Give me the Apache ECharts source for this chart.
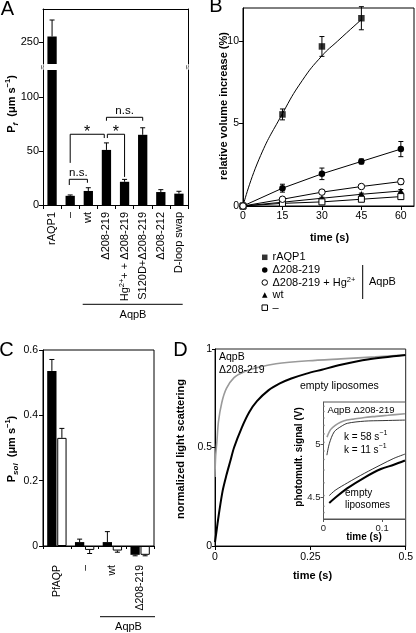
<!DOCTYPE html>
<html><head><meta charset="utf-8">
<script src="https://cdn.jsdelivr.net/npm/echarts@6/dist/echarts.min.js"></script>
<style>html,body{margin:0;padding:0;background:#fff}#c{width:416px;height:633px}</style>
</head><body><div id="c"></div>
<script>
const FONT = '"Liberation Sans", Arial, Helvetica, sans-serif';

// ---------- Panel A ----------
const aCategories = ['rAQP1', '–', 'wt', 'Δ208-219', 'Hg2+ + Δ208-219', 'S120D+Δ208-219', 'Δ208-212', 'D-loop swap'];
const aValues = [255, 8.5, 13, 51, 21.5, 65, 12, 10.5];
const aErrors = [15, 0.8, 3, 6.5, 2.2, 6.5, 2.2, 2.2];
const aUpperTicks = [250];
const aLowerTicks = [0, 50, 100];
// brackets: [fromCat, toCat, bracketValue, leftLegEnd, rightLegEnd]
const aBrackets = [[1, 3, 65.5, 39, 62], [3, 4, 65.5, 62, 26], [3, 5, 81.2, 78, 78], [1, 2, 23.8, 18.5, 20.6]];
const aBracketLabels = ['*', '*', 'n.s.', 'n.s.'];
const aBracketNudge = [[0, -0.12], [0.05, 0], [0, 0], [-0.05, -0.05]];

// ---------- Panel B ----------
const bTimes = [0, 15, 30, 45, 60];
const bRAQP1 = [0, 5.55, 9.67, 11.38];
const bRAQP1Err = [0, 0.33, 0.6, 0.7];
const bRAQP1FitT = [0, 6, 15, 22.5, 30, 36, 45];
const bRAQP1FitV = [0, 2.8, 5.6, 7.6, 9.1, 10, 11.3];
const bD208 = [0, 1.08, 1.95, 2.7, 3.45];
const bD208Err = [0, 0.24, 0.35, 0.15, 0.46];
const bD208Hg = [0, 0.41, 0.84, 1.18, 1.48];
const bD208HgErr = [0, 0.08, 0.1, 0.1, 0.18];
const bWt = [0, 0.23, 0.47, 0.71, 0.91];
const bWtErr = [0, 0.05, 0.06, 0.07, 0.09];
const bEmpty = [0, 0.16, 0.25, 0.41, 0.57];
const bEmptyErr = [0, 0.04, 0.05, 0.06, 0.07];
const bXTicks = [0, 15, 30, 45, 60];
const bYTicks = [0, 5, 10];
const bLegendNames = ['rAQP1', 'Δ208-219', 'Δ208-219 + Hg2+', 'wt', '–'];

// ---------- Panel C ----------
const cCategories = ['PfAQP', '–', 'wt', 'Δ208-219'];
const cFilled = [0.536, 0.012, 0.012, -0.027];
const cFilledErr = [0.035, 0.009, 0.032, 0.003];
const cOpen = [0.331, -0.012, -0.014, -0.027];
const cOpenErr = [0.029, 0.011, 0.005, 0.003];
const cYTicks = [0, 0.2, 0.4, 0.6];

// ---------- Panel D ----------
const dEmptyT = [0, 0.005, 0.01, 0.02, 0.03, 0.04, 0.05, 0.07, 0.09, 0.11, 0.14, 0.17, 0.2, 0.24, 0.28, 0.33, 0.4, 0.5];
const dEmptyV = [0.02, 0.09, 0.16, 0.28, 0.36, 0.43, 0.5, 0.6, 0.68, 0.735, 0.79, 0.825, 0.85, 0.875, 0.895, 0.92, 0.947, 0.97];
const dAqpBT = [0, 0.0015, 0.005, 0.009, 0.018, 0.03, 0.05, 0.077, 0.12, 0.16, 0.245, 0.33, 0.42, 0.5];
const dAqpBV = [0.35, 0.45, 0.53, 0.63, 0.73, 0.80, 0.855, 0.885, 0.91, 0.925, 0.94, 0.95, 0.96, 0.97];
const dXTicks = [0, 0.25, 0.5];
const dYTicks = [0, 0.5, 1];
// inset
const iDotsT = [0.001, 0.001, 0.001, 0.001, 0.001, 0.001, 0.001, 0.001, 0.001, 0.001, 0.001, 0.001, 0.001];
const iDotsV = [5.36, 5.31, 5.25, 5.18, 5.1, 5.02, 4.94, 4.86, 4.76, 4.64, 4.52, 4.42, 4.36];
const iAqpBT = [0.006, 0.012, 0.02, 0.029, 0.04, 0.052, 0.07, 0.09, 0.11, 0.139];
const iAqpBV = [5.07, 5.14, 5.18, 5.21, 5.23, 5.24, 5.255, 5.265, 5.275, 5.29];
const iAqpBFitT = [0.0058, 0.01, 0.0183, 0.03, 0.041, 0.07, 0.1, 0.139];
const iAqpBFitV = [4.9, 5.01, 5.12, 5.17, 5.2, 5.22, 5.225, 5.23];
const iEmptyT = [0.0098, 0.02, 0.041, 0.07, 0.098, 0.12, 0.139];
const iEmptyV = [4.45, 4.5, 4.59, 4.69, 4.77, 4.81, 4.85];
const iEmptyFitT = [0.0098, 0.02, 0.041, 0.07, 0.098, 0.12, 0.139];
const iEmptyFitV = [4.52, 4.57, 4.64, 4.73, 4.81, 4.87, 4.91];
const iXTicks = [0, 0.1];
const iYTicks = [4.5, 5];

// ---------- helpers ----------
const BLK = '#000';
const pairs = (xs, ys) => ys.map((y, i) => [xs[i], y]);

function errOneSided(off) {
  return function (params, api) {
    const i = api.value(0), v = api.value(1), e = api.value(2);
    const dir = v < 0 ? -1 : 1;
    const a = api.coord([i, v]), b = api.coord([i, v + dir * e]);
    const x = a[0] + off, cap = 2.5;
    return {type: 'group', children: [
      {type: 'line', shape: {x1: x, y1: a[1], x2: x, y2: b[1]}, style: {stroke: BLK, lineWidth: 1}},
      {type: 'line', shape: {x1: x - cap, y1: b[1], x2: x + cap, y2: b[1]}, style: {stroke: BLK, lineWidth: 1}}
    ]};
  };
}
function errBoth(params, api) {
  const t = api.value(0), v = api.value(1), e = api.value(2);
  const hi = api.coord([t, v + e]), lo = api.coord([t, v - e]);
  const cap = 2.5, s = {stroke: BLK, lineWidth: 1};
  return {type: 'group', children: [
    {type: 'line', shape: {x1: hi[0], y1: hi[1], x2: lo[0], y2: lo[1]}, style: s},
    {type: 'line', shape: {x1: hi[0] - cap, y1: hi[1], x2: hi[0] + cap, y2: hi[1]}, style: s},
    {type: 'line', shape: {x1: lo[0] - cap, y1: lo[1], x2: lo[0] + cap, y2: lo[1]}, style: s}
  ]};
}
function bracketRender(params, api) {
  const k = params.dataIndex;
  const band = api.size([1, 0])[0];
  const n = aBracketNudge[k];
  const c1 = api.coord([api.value(0), api.value(2)]);
  const c2 = api.coord([api.value(1), api.value(2)]);
  const x1 = c1[0] + n[0] * band, x2 = c2[0] + n[1] * band, yT = c1[1];
  const yL = api.coord([api.value(0), api.value(3)])[1];
  const yR = api.coord([api.value(0), api.value(4)])[1];
  const lab = aBracketLabels[k];
  const star = lab === '*';
  return {type: 'group', children: [
    {type: 'polyline', shape: {points: [[x1, yL], [x1, yT], [x2, yT], [x2, yR]]}, style: {stroke: BLK, lineWidth: 1, fill: null}},
    {type: 'text', style: {x: (x1 + x2) / 2, y: yT + (star ? 6.8 : -0.5), text: lab, fill: BLK,
      fontFamily: FONT, fontSize: star ? 16 : 11.5, align: 'center', verticalAlign: 'bottom',
      textAlign: 'center', textVerticalAlign: 'bottom'}}
  ]};
}

function txt(x, y, text, style, rotation) {
  const st = Object.assign({text: text, fill: BLK, fontFamily: FONT, fontSize: 11,
    align: 'left', verticalAlign: 'middle', textAlign: 'left', textVerticalAlign: 'middle'}, style || {});
  if (st.align) st.textAlign = st.align;
  if (st.verticalAlign) st.textVerticalAlign = st.verticalAlign;
  return {type: 'text', x: x, y: y, rotation: rotation || 0, z: 100, style: st};
}
function hline(x1, x2, y, color) {
  return {type: 'line', z: 100, shape: {x1: x1, y1: y, x2: x2, y2: y}, style: {stroke: color || BLK, lineWidth: 1}};
}
function vline(x, y1, y2) {
  return {type: 'line', z: 100, shape: {x1: x, y1: y1, x2: x, y2: y2}, style: {stroke: BLK, lineWidth: 1}};
}
const nameRich = {
  b: {fontFamily: FONT, fontSize: 11, fontWeight: 'bold', lineHeight: 16, verticalAlign: 'middle', fill: BLK, color: BLK},
  sub: {fontFamily: FONT, fontSize: 8, fontWeight: 'bold', fontStyle: 'italic', lineHeight: 8, verticalAlign: 'bottom', fill: BLK, color: BLK},
  sup: {fontFamily: FONT, fontSize: 7.5, fontWeight: 'bold', lineHeight: 8, verticalAlign: 'top', fill: BLK, color: BLK},
  n: {fontFamily: FONT, fontSize: 10, lineHeight: 14, verticalAlign: 'middle', fill: BLK, color: BLK},
  ns: {fontFamily: FONT, fontSize: 7, lineHeight: 7, verticalAlign: 'top', fill: BLK, color: BLK}
};

const axisLineBlk = {show: true, onZero: false, lineStyle: {color: BLK, width: 1}};
const tickOut = (vals, len) => ({show: true, inside: false, length: len || 4, lineStyle: {color: BLK}, customValues: vals});
const lab = (vals, size, margin) => ({show: true, color: BLK, fontFamily: FONT, fontSize: size, margin: margin || 4, customValues: vals});
const noSplit = {show: false};

const aUpperMin = 230, aUpperMax = 280, aLowerMax = 125;

const option = {
  animation: false,
  backgroundColor: '#fff',
  textStyle: {fontFamily: FONT},
  grid: [
    {left: 43, top: 9, width: 145, height: 55},               // A upper
    {left: 43, top: 70, width: 145, height: 135},             // A lower
    {left: 243, top: 8, width: 171, height: 198, show: true, borderColor: BLK, borderWidth: 1},   // B
    {left: 43, top: 350, width: 111, height: 196, show: true, borderColor: BLK, borderWidth: 1},  // C
    {left: 215, top: 349, width: 198, height: 197, show: true, borderColor: '#222', borderWidth: 1}, // D
    {left: 323.5, top: 402, width: 82, height: 117, show: true, borderColor: '#555', borderWidth: 1, backgroundColor: '#fff'} // inset
  ],
  xAxis: [
    {type: 'category', gridIndex: 0, position: 'top', data: aCategories, axisLine: axisLineBlk, axisTick: {show: false}, axisLabel: {show: false}},
    {type: 'category', gridIndex: 1, position: 'bottom', data: aCategories, axisLine: axisLineBlk,
      axisTick: {show: true, length: 4, lineStyle: {color: BLK}, interval: 0},
      axisLabel: {show: true, interval: 0, rotate: 90, margin: 7, color: BLK, fontFamily: FONT, fontSize: 11,
        formatter: v => v.indexOf('Hg') === 0 ? '{t|Hg}{s|2+}{t|' + v.slice(3) + '}' : v,
        rich: {t: {fontFamily: FONT, fontSize: 11, color: BLK, lineHeight: 14, verticalAlign: 'middle'},
               s: {fontFamily: FONT, fontSize: 7.5, color: BLK, lineHeight: 7.5, verticalAlign: 'top'}}}},
    {type: 'value', gridIndex: 2, min: 0, max: 65, axisLine: axisLineBlk, axisTick: tickOut(bXTicks, 4), axisLabel: lab(bXTicks, 10.5, 5), splitLine: noSplit},
    {type: 'category', gridIndex: 3, data: cCategories, axisLine: axisLineBlk,
      axisTick: {show: true, length: 3, lineStyle: {color: BLK}, interval: 0},
      axisLabel: {show: true, interval: 0, rotate: 90, margin: 19, color: BLK, fontFamily: FONT, fontSize: 10.5}},
    {type: 'value', gridIndex: 4, min: 0, max: 0.5, axisLine: axisLineBlk, axisTick: tickOut(dXTicks, 4), axisLabel: lab(dXTicks, 10.5, 6), splitLine: noSplit},
    {type: 'value', gridIndex: 5, min: 0, max: 0.14, axisLine: {show: true, onZero: false, lineStyle: {color: '#555'}},
      axisTick: {show: true, length: 3, lineStyle: {color: '#555'}, customValues: iXTicks},
      axisLabel: {show: true, color: '#222', fontFamily: FONT, fontSize: 9.5, margin: 4, customValues: iXTicks}, splitLine: noSplit}
  ],
  yAxis: [
    {type: 'value', gridIndex: 0, min: aUpperMin, max: aUpperMax, position: 'left', axisLine: axisLineBlk, axisTick: tickOut(aUpperTicks), axisLabel: lab(aUpperTicks, 11), splitLine: noSplit},
    {type: 'value', gridIndex: 0, min: aUpperMin, max: aUpperMax, position: 'right', axisLine: axisLineBlk, axisTick: {show: false}, axisLabel: {show: false}, splitLine: noSplit},
    {type: 'value', gridIndex: 1, min: 0, max: aLowerMax, position: 'left', axisLine: axisLineBlk, axisTick: tickOut(aLowerTicks), axisLabel: lab(aLowerTicks, 11), splitLine: noSplit},
    {type: 'value', gridIndex: 1, min: 0, max: aLowerMax, position: 'right', axisLine: axisLineBlk, axisTick: {show: false}, axisLabel: {show: false}, splitLine: noSplit},
    {type: 'value', gridIndex: 2, min: 0, max: 12, axisLine: axisLineBlk, axisTick: tickOut(bYTicks), axisLabel: lab(bYTicks, 10.5), splitLine: noSplit},
    {type: 'value', gridIndex: 3, min: 0, max: 0.6, axisLine: axisLineBlk, axisTick: tickOut(cYTicks), axisLabel: lab(cYTicks, 10.5, 5), splitLine: noSplit},
    {type: 'value', gridIndex: 4, min: 0, max: 1, axisLine: axisLineBlk, axisTick: tickOut(dYTicks, 3), axisLabel: lab(dYTicks, 10.5, 3), splitLine: noSplit},
    {type: 'value', gridIndex: 5, min: 4.3, max: 5.4, axisLine: {show: true, onZero: false, lineStyle: {color: '#555'}},
      axisTick: {show: true, length: 3, lineStyle: {color: '#555'}, customValues: iYTicks},
      axisLabel: {show: true, color: '#222', fontFamily: FONT, fontSize: 9.5, margin: 3, customValues: iYTicks}, splitLine: noSplit}
  ],
  legend: {
    orient: 'vertical', left: 261.5, top: 251, padding: 0, itemWidth: 5.5, itemHeight: 5.5, itemGap: 0,
    selectedMode: false,
    textStyle: {fontFamily: FONT, fontSize: 11, color: BLK, lineHeight: 12.6,
      rich: {t: {fontFamily: FONT, fontSize: 11, color: BLK, lineHeight: 12.6, verticalAlign: 'middle'},
             s: {fontFamily: FONT, fontSize: 7.5, color: BLK, lineHeight: 7.5, verticalAlign: 'top'}}},
    formatter: n => n === bLegendNames[2] ? '{t|Δ208-219 + Hg}{s|2+}' : n,
    data: [
      {name: bLegendNames[0], icon: 'rect', itemStyle: {color: BLK}},
      {name: bLegendNames[1], icon: 'circle', itemStyle: {color: BLK}},
      {name: bLegendNames[2], icon: 'circle', itemStyle: {color: '#fff', borderColor: BLK, borderWidth: 1}},
      {name: bLegendNames[3], icon: 'triangle', itemStyle: {color: BLK}},
      {name: bLegendNames[4], icon: 'rect', itemStyle: {color: '#fff', borderColor: BLK, borderWidth: 1}}
    ]
  },
  series: [
    // ---- A ----
    {type: 'bar', name: 'A upper bars', xAxisIndex: 0, yAxisIndex: 0, barWidth: 9.3, silent: true,
      data: aValues.map(v => v > aUpperMin ? v : '-'), itemStyle: {color: BLK}},
    {type: 'bar', name: 'A lower bars', xAxisIndex: 1, yAxisIndex: 2, barWidth: 9.3, silent: true,
      data: aValues, itemStyle: {color: BLK}},
    {type: 'custom', name: 'A upper err', xAxisIndex: 0, yAxisIndex: 0, z: 3, silent: true,
      data: aValues.map((v, i) => [i, v, aErrors[i]]).filter(d => d[1] > aUpperMin), renderItem: errOneSided(0)},
    {type: 'custom', name: 'A lower err', xAxisIndex: 1, yAxisIndex: 2, z: 3, silent: true,
      data: aValues.map((v, i) => [i, v, aErrors[i]]).filter(d => d[1] <= aLowerMax), renderItem: errOneSided(0)},
    {type: 'custom', name: 'A brackets', xAxisIndex: 1, yAxisIndex: 2, z: 4, silent: true,
      encode: {x: 0, y: 2}, data: aBrackets, renderItem: bracketRender},
    // ---- B ----
    {type: 'custom', name: 'B err', xAxisIndex: 2, yAxisIndex: 4, z: 1, silent: true, renderItem: errBoth,
      data: [].concat(
        bRAQP1.map((v, i) => [bTimes[i], v, bRAQP1Err[i]]),
        bD208.map((v, i) => [bTimes[i], v, bD208Err[i]]),
        bD208Hg.map((v, i) => [bTimes[i], v, bD208HgErr[i]]),
        bWt.map((v, i) => [bTimes[i], v, bWtErr[i]]),
        bEmpty.map((v, i) => [bTimes[i], v, bEmptyErr[i]])).filter(d => d[2] > 0)},
    {type: 'line', name: 'rAQP1 fit', xAxisIndex: 2, yAxisIndex: 4, z: 2, smooth: 0.5, showSymbol: false, silent: true,
      data: pairs(bRAQP1FitT, bRAQP1FitV), lineStyle: {color: BLK, width: 1}},
    {type: 'scatter', name: bLegendNames[0], xAxisIndex: 2, yAxisIndex: 4, z: 5, symbol: 'rect', symbolSize: 6.5,
      data: pairs(bTimes, bRAQP1), itemStyle: {color: BLK}},
    {type: 'line', name: bLegendNames[1], xAxisIndex: 2, yAxisIndex: 4, z: 5, symbol: 'circle', symbolSize: 6.5, showAllSymbol: true,
      data: pairs(bTimes, bD208), itemStyle: {color: BLK}, lineStyle: {color: BLK, width: 1}},
    {type: 'line', name: bLegendNames[2], xAxisIndex: 2, yAxisIndex: 4, z: 6, symbol: 'circle', symbolSize: 6.5, showAllSymbol: true,
      data: pairs(bTimes, bD208Hg), itemStyle: {color: '#fff', borderColor: BLK, borderWidth: 1}, lineStyle: {color: BLK, width: 1}},
    {type: 'line', name: bLegendNames[3], xAxisIndex: 2, yAxisIndex: 4, z: 5, symbol: 'triangle', symbolSize: 6.5, showAllSymbol: true,
      data: pairs(bTimes, bWt), itemStyle: {color: BLK}, lineStyle: {color: BLK, width: 1}},
    {type: 'line', name: bLegendNames[4], xAxisIndex: 2, yAxisIndex: 4, z: 5, symbol: 'rect', symbolSize: 6, showAllSymbol: true,
      data: pairs(bTimes, bEmpty), itemStyle: {color: '#fff', borderColor: BLK, borderWidth: 1}, lineStyle: {color: BLK, width: 1}},
    // ---- C ----
    {type: 'bar', name: 'C filled', xAxisIndex: 3, yAxisIndex: 5, barWidth: 9.3, barGap: '8%', clip: false, silent: true,
      data: cFilled, itemStyle: {color: BLK}},
    {type: 'bar', name: 'C open', xAxisIndex: 3, yAxisIndex: 5, barWidth: 9.3, barGap: '8%', clip: false, silent: true,
      data: cOpen, itemStyle: {color: '#fff', borderColor: BLK, borderWidth: 1}},
    {type: 'custom', name: 'C err filled', xAxisIndex: 3, yAxisIndex: 5, z: 3, silent: true,
      data: cFilled.map((v, i) => [i, v, cFilledErr[i]]), renderItem: errOneSided(-5.0)},
    {type: 'custom', name: 'C err open', xAxisIndex: 3, yAxisIndex: 5, z: 3, silent: true,
      data: cOpen.map((v, i) => [i, v, cOpenErr[i]]), renderItem: errOneSided(5.0)},
    // ---- D ----
    {type: 'line', name: 'D AqpB', xAxisIndex: 4, yAxisIndex: 6, showSymbol: false, smooth: 0.3, silent: true,
      data: pairs(dAqpBT, dAqpBV), lineStyle: {color: '#9a9a9a', width: 1.6}},
    {type: 'line', name: 'D empty', xAxisIndex: 4, yAxisIndex: 6, showSymbol: false, smooth: 0.3, silent: true,
      data: pairs(dEmptyT, dEmptyV), lineStyle: {color: BLK, width: 2}},
    // ---- inset ----
    {type: 'scatter', name: 'I dots', xAxisIndex: 5, yAxisIndex: 7, symbolSize: 1.6, silent: true,
      data: pairs(iDotsT, iDotsV), itemStyle: {color: '#888'}},
    {type: 'line', name: 'I AqpB', xAxisIndex: 5, yAxisIndex: 7, showSymbol: false, smooth: 0.3, silent: true,
      data: pairs(iAqpBT, iAqpBV), lineStyle: {color: '#999', width: 1.6}},
    {type: 'line', name: 'I AqpB fit', xAxisIndex: 5, yAxisIndex: 7, showSymbol: false, smooth: 0.3, silent: true,
      data: pairs(iAqpBFitT, iAqpBFitV), lineStyle: {color: BLK, width: 0.8}},
    {type: 'line', name: 'I empty', xAxisIndex: 5, yAxisIndex: 7, showSymbol: false, smooth: 0.3, silent: true,
      data: pairs(iEmptyT, iEmptyV), lineStyle: {color: BLK, width: 2}},
    {type: 'line', name: 'I empty fit', xAxisIndex: 5, yAxisIndex: 7, showSymbol: false, smooth: 0.3, silent: true,
      data: pairs(iEmptyFitT, iEmptyFitV), lineStyle: {color: BLK, width: 0.8}}
  ],
  graphic: [
    // panel letters
    txt(7.5, 9.5, 'A', {fontSize: 20, align: 'center'}),
    txt(216, 6.5, 'B', {fontSize: 20, align: 'center'}),
    txt(6.5, 350, 'C', {fontSize: 20, align: 'center'}),
    txt(180.5, 350, 'D', {fontSize: 20, align: 'center'}),
    // y-axis names
    txt(11.5, 104, '{b|P}{sub|f}{b|  (μm s}{sup|−1}{b|)}', {align: 'center', rich: nameRich}, Math.PI / 2),
    txt(224, 106, 'relative volume increase (%)', {align: 'center', fontWeight: 'bold'}, Math.PI / 2),
    txt(11.5, 449, '{b|P}{sub|sol}{b|  (μm s}{sup|−1}{b|)}', {align: 'center', rich: nameRich}, Math.PI / 2),
    txt(180.5, 449, 'normalized light scattering', {align: 'center', fontWeight: 'bold'}, Math.PI / 2),
    txt(299, 457, 'photomult. signal (V)', {align: 'center', fontWeight: 'bold', fontSize: 10}, Math.PI / 2),
    // x-axis names
    txt(329.5, 238, 'time (s)', {align: 'center', fontWeight: 'bold'}),
    txt(312.5, 576, 'time (s)', {align: 'center', fontWeight: 'bold'}),
    txt(364, 537.5, 'time (s)', {align: 'center', fontWeight: 'bold', fontSize: 10}),
    // AqpB group marks
    hline(82.7, 182.7, 304.3), txt(133, 314.5, 'AqpB', {align: 'center'}),
    hline(100, 155, 616.7), txt(128.5, 626.5, 'AqpB', {align: 'center'}),
    vline(362.7, 265, 299), txt(369, 282, 'AqpB', {align: 'left'}),
    // axis break marks
    txt(43, 67, '≈', {align: 'center', fontSize: 8}, Math.PI / 2),
    txt(188, 67, '≈', {align: 'center', fontSize: 8}, Math.PI / 2),
    // D annotations
    txt(219, 357.5, 'AqpB', {fontSize: 10.5}),
    txt(219, 370, 'Δ208-219', {fontSize: 10.5}),
    txt(300, 386, 'empty liposomes', {fontSize: 10.5}),
    txt(327.5, 410, 'AqpB Δ208-219', {fontSize: 9.5}),
    txt(344, 437, '{n|k = 58 s}{ns|−1}', {rich: nameRich}),
    txt(344, 450, '{n|k = 11 s}{ns|−1}', {rich: nameRich}),
    txt(345, 493.5, 'empty', {fontSize: 10}),
    txt(345, 505, 'liposomes', {fontSize: 10})
  ]
};

const chart = echarts.init(document.getElementById('c'), null, {renderer: 'canvas', width: 416, height: 633});
chart.setOption(option);
</script>
</body></html>
